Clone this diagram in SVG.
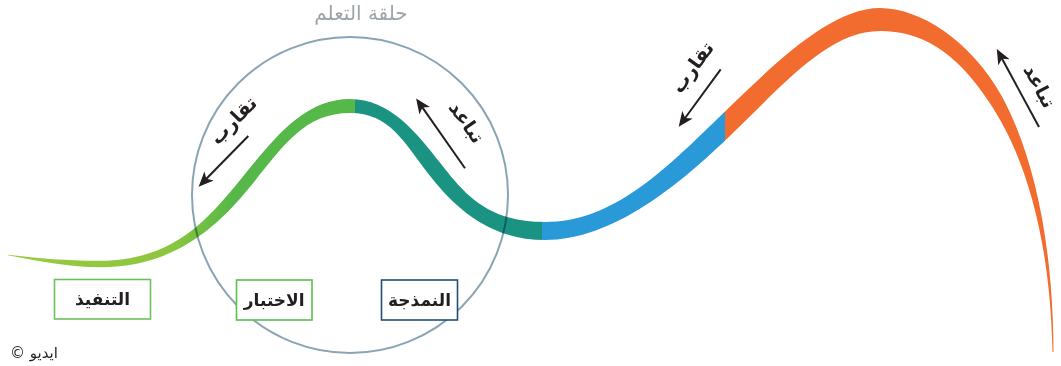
<svg xmlns="http://www.w3.org/2000/svg" width="1061" height="366" viewBox="0 0 1061 366">
  <style>
    .lbl { font-family: "DejaVu Sans", "Noto Sans", sans-serif; font-weight: bold; font-size: 17px; fill: #231f20; text-anchor: middle; }
    .dir { font-family: "DejaVu Sans", "Noto Sans", sans-serif; font-weight: bold; font-size: 19px; fill: #231f20; text-anchor: middle; }
    .box { fill: #ffffff; stroke-width: 1.6; }
    .arrow { stroke: #231f20; stroke-width: 2; fill: none; marker-end: url(#head); }
  </style>
  <defs>
    <linearGradient id="band" gradientUnits="userSpaceOnUse" x1="0" y1="0" x2="1061" y2="0">
      <stop offset="0" stop-color="#9acb3c"/>
      <stop offset="0.16" stop-color="#8cc63f"/>
      <stop offset="0.22" stop-color="#55b848"/>
      <stop offset="0.3346" stop-color="#55b848"/>
      <stop offset="0.3346" stop-color="#1b9383"/>
      <stop offset="0.5108" stop-color="#1b9383"/>
      <stop offset="0.5108" stop-color="#2999d7"/>
      <stop offset="0.6833" stop-color="#2999d7"/>
      <stop offset="0.6833" stop-color="#f26c30"/>
      <stop offset="1" stop-color="#f26c30"/>
    </linearGradient>
    <marker id="head" markerUnits="userSpaceOnUse" viewBox="0 0 15 13" refX="6" refY="6.5" markerWidth="15" markerHeight="13" orient="auto">
      <path d="M0,0 L15,6.5 L0,13 L4,6.5 z" fill="#231f20"/>
    </marker>
  </defs>

  <rect width="1061" height="366" fill="#ffffff"/>

  <!-- the tapered ribbon curve -->
  <g id="curve">
    <path fill="url(#band)" d="M 8 254.8
      C 40.2 258.8, 70 261, 100 260.8
      C 172.5 260.5, 206.6 220.7, 239.1 181.2
      C 271.6 141.7, 302.5 99, 350 99
      C 390 99, 416.3 132.3, 440.7 163.6
      C 465.05 194.8, 487.5 222, 545 222
      C 612.5 222, 663.9 170.7, 718.3 118
      C 772.7 65.2, 830 8, 880 8
      C 920 8, 970.2 40.3, 1001.4 95.4
      C 1031.7 150.9, 1053 236, 1053.5 352
      L 1052.5 352
      C 1050 236, 1024.8 155.1, 989.4 102.6
      C 954.8 49.7, 920 31, 880 31
      C 830 31, 787.3 80.3, 732.9 133
      C 678.6 185.8, 612.5 240, 545 240
      C 487.5 240, 452.45 204.7, 428.1 173.4
      C 403.7 142.2, 390 113, 350 113
      C 302.5 113, 280.9 149.3, 248.4 188.8
      C 215.9 228.3, 172.5 267.5, 100 267.2
      C 70 267, 39.8 261.2, 8 255.2 Z"/>
  </g>

  <!-- learning loop -->
  <g id="loop">
    <circle cx="350" cy="195" r="158" fill="none" stroke="#8aa4b4" stroke-width="2" style="mix-blend-mode: multiply"/>
    <text x="361" y="20" font-family="'DejaVu Sans', 'Noto Sans', sans-serif" font-size="20" fill="#9ca4a9" text-anchor="middle">حلقة التعلم</text>
  </g>

  <g id="node-execute">
    <rect class="box" x="54.5" y="279.5" width="96" height="39.5" stroke="#6cc25a"/>
    <text class="lbl" x="102.5" y="305">التنفيذ</text>
  </g>
  <g id="node-testing">
    <rect class="box" x="236.5" y="280" width="75.5" height="40" stroke="#5dbe4e"/>
    <text class="lbl" x="274.2" y="306">الاختبار</text>
  </g>
  <g id="node-modelling">
    <rect class="box" x="381.5" y="280" width="76" height="40" stroke="#1f4e78"/>
    <text class="lbl" x="419.5" y="306">النمذجة</text>
  </g>

  <!-- direction arrows with labels -->
  <g id="connectors">
    <line class="arrow" x1="248.3" y1="136" x2="204.9" y2="180.3"/>
    <line class="arrow" x1="465" y1="168.3" x2="421.3" y2="105.85"/>
    <line class="arrow" x1="720.7" y1="69.3" x2="684" y2="119.5"/>
    <line class="arrow" x1="1039" y1="127" x2="1001.1" y2="57"/>
    <text class="dir" transform="translate(233 120) rotate(-46)" y="7">تقارب</text>
    <text class="dir" transform="translate(467 122) rotate(55)" y="7">تباعد</text>
    <text class="dir" transform="translate(692 67) rotate(-54)" y="7">تقارب</text>
    <text class="dir" transform="translate(1040 86) rotate(62)" y="7">تباعد</text>
  </g>

  <text x="10" y="358" font-family="'DejaVu Sans', 'Noto Sans', sans-serif" font-size="15" fill="#231f20">© ايديو</text>
</svg>
